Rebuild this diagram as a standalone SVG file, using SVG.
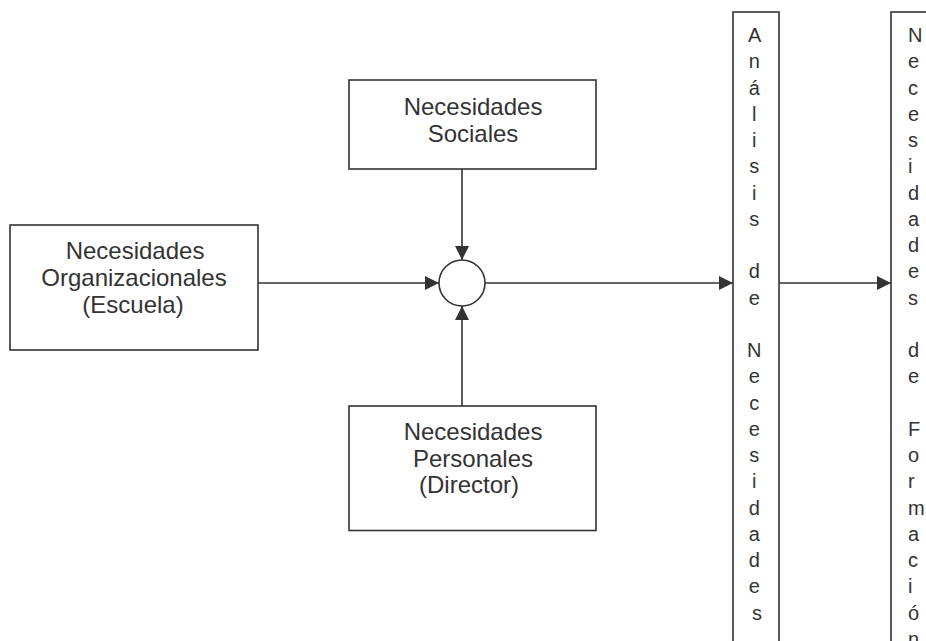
<svg xmlns="http://www.w3.org/2000/svg" width="926" height="641" viewBox="0 0 926 641">
  <style>
    .box { fill: #ffffff; stroke: #333333; stroke-width: 1.6; }
    .lbl { font-family: "Liberation Sans", Arial, sans-serif; font-size: 24px; fill: #333333; text-anchor: middle; }
    .vt { font-family: "Liberation Sans", Arial, sans-serif; font-size: 20px; fill: #333333; }
    .edge { fill: none; stroke: #333333; stroke-width: 1.6; marker-end: url(#arrow); }
  </style>
  <defs>
    <marker id="arrow" viewBox="0 0 14 14" refX="14" refY="7" markerWidth="14" markerHeight="14" markerUnits="userSpaceOnUse" orient="auto">
      <path d="M0,0 L14,7 L0,14 Z" fill="#333333"/>
    </marker>
  </defs>
  <rect width="926" height="641" fill="#ffffff"/>

  <g id="connectors">
    <line class="edge" x1="258" y1="283" x2="439" y2="283"/>
    <line class="edge" x1="462" y1="169" x2="462" y2="260"/>
    <line class="edge" x1="462" y1="406" x2="462" y2="306"/>
    <line class="edge" x1="485" y1="283" x2="733" y2="283"/>
    <line class="edge" x1="779" y1="283" x2="891" y2="283"/>
  </g>

  <g id="node-organizacionales">
    <rect class="box" x="10" y="225" width="248" height="125"/>
    <text class="lbl" x="135" y="259">Necesidades</text>
    <text class="lbl" x="134" y="286">Organizacionales</text>
    <text class="lbl" x="133" y="313">(Escuela)</text>
  </g>

  <g id="node-sociales">
    <rect class="box" x="349" y="80" width="247" height="89"/>
    <text class="lbl" x="473" y="115">Necesidades</text>
    <text class="lbl" x="473" y="142">Sociales</text>
  </g>

  <g id="node-personales">
    <rect class="box" x="349" y="406" width="247" height="124.5"/>
    <text class="lbl" x="473" y="440">Necesidades</text>
    <text class="lbl" x="473" y="467">Personales</text>
    <text class="lbl" x="469" y="493">(Director)</text>
  </g>

  <g id="node-suma">
    <circle cx="462" cy="283" r="23" fill="#ffffff" stroke="#333333" stroke-width="1.6"/>
  </g>

  <g id="node-analisis">
    <rect class="box" x="733" y="12" width="46" height="640"/>
    <text class="vt" text-anchor="middle">
      <tspan x="757" y="42">A</tspan>
      <tspan x="757" y="68.25">n</tspan>
      <tspan x="757" y="94.5">á</tspan>
      <tspan x="757" y="120.75">l</tspan>
      <tspan x="757" y="147">i</tspan>
      <tspan x="757" y="173.25">s</tspan>
      <tspan x="757" y="199.5">i</tspan>
      <tspan x="757" y="225.75">s</tspan>
      <tspan x="757" y="278.25">d</tspan>
      <tspan x="757" y="304.5">e</tspan>
      <tspan x="757" y="357">N</tspan>
      <tspan x="757" y="383.25">e</tspan>
      <tspan x="757" y="409.5">c</tspan>
      <tspan x="757" y="435.75">e</tspan>
      <tspan x="757" y="462">s</tspan>
      <tspan x="757" y="488.25">i</tspan>
      <tspan x="757" y="514.5">d</tspan>
      <tspan x="757" y="540.75">a</tspan>
      <tspan x="757" y="567">d</tspan>
      <tspan x="757" y="593.25">e</tspan>
      <tspan x="757" y="619.5">s</tspan>
    </text>
  </g>

  <g id="node-formacion">
    <rect class="box" x="891" y="12" width="60" height="640"/>
    <text class="vt" text-anchor="start">
      <tspan x="908" y="42">N</tspan>
      <tspan x="908" y="68.25">e</tspan>
      <tspan x="908" y="94.5">c</tspan>
      <tspan x="908" y="120.75">e</tspan>
      <tspan x="908" y="147">s</tspan>
      <tspan x="908" y="173.25">i</tspan>
      <tspan x="908" y="199.5">d</tspan>
      <tspan x="908" y="225.75">a</tspan>
      <tspan x="908" y="252">d</tspan>
      <tspan x="908" y="278.25">e</tspan>
      <tspan x="908" y="304.5">s</tspan>
      <tspan x="908" y="357">d</tspan>
      <tspan x="908" y="383.25">e</tspan>
      <tspan x="908" y="435.75">F</tspan>
      <tspan x="908" y="462">o</tspan>
      <tspan x="908" y="488.25">r</tspan>
      <tspan x="908" y="514.5">m</tspan>
      <tspan x="908" y="540.75">a</tspan>
      <tspan x="908" y="567">c</tspan>
      <tspan x="908" y="593.25">i</tspan>
      <tspan x="908" y="619.5">ó</tspan>
      <tspan x="908" y="645.75">n</tspan>
    </text>
  </g>
</svg>
